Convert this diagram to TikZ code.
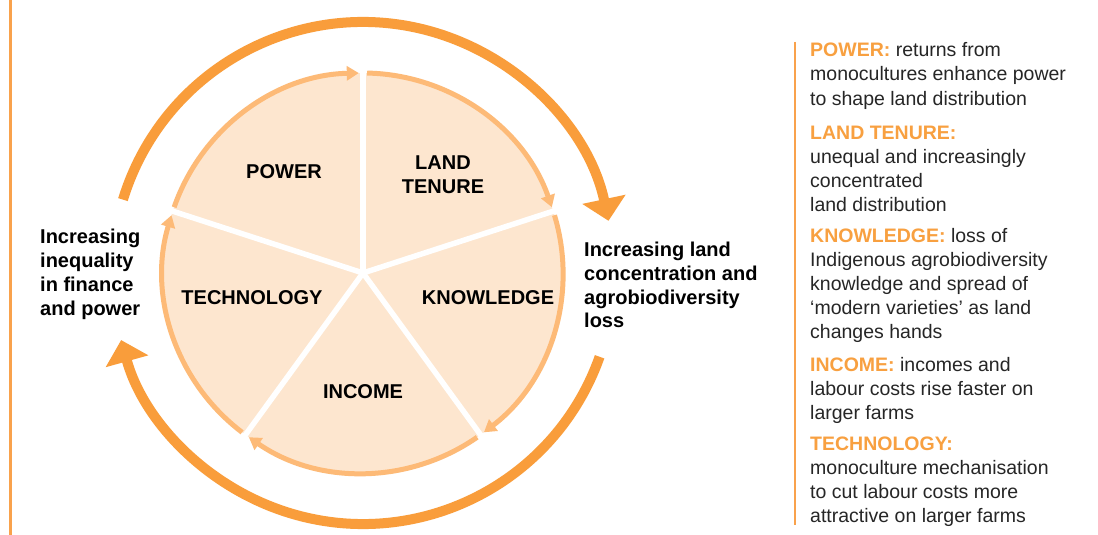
\documentclass[tikz,border=0pt]{standalone}
\usepackage{fontspec}
\setmainfont{Liberation Sans}
\usetikzlibrary{arrows.meta,calc}
\definecolor{peach}{HTML}{FDE6CF}
\definecolor{rim}{HTML}{FDBA77}
\definecolor{ring}{HTML}{F99D3B}
\definecolor{hdcol}{HTML}{F8A040}
\definecolor{txt}{HTML}{262626}
\definecolor{border}{HTML}{F9A24C}
\newcommand\legHead[1]{\textcolor{hdcol}{\bfseries #1}}
\begin{document}
\begin{tikzpicture}[x=1pt,y=1pt,
  rimarc/.style={draw=rim,line width=5pt,-{Triangle[length=12pt,width=14pt]}},
  ringarc/.style={draw=ring,line width=10pt,-{Triangle[length=22pt,width=43pt]}},
  divider/.style={draw=white,line width=5.5pt},
  borderline/.style={draw=border,line width=2.5pt},
  slicelab/.style={font=\fontsize{20}{24}\selectfont\bfseries,anchor=base,inner sep=0pt},
  sidelab/.style={font=\fontsize{20}{24}\selectfont\bfseries,anchor=base west,inner sep=0pt},
  legline/.style={font=\fontsize{19.5}{24}\selectfont,text=txt,anchor=base west,inner sep=0pt}]
\useasboundingbox (0,0) rectangle (1098,-535);
\fill[white] (0,0) rectangle (1098,-535);

% borders
\coordinate (bl1) at (10.5,0);
\coordinate (bl2) at (10.5,-535);
\coordinate (br1) at (795,-42);
\coordinate (br2) at (795,-525);
\draw[borderline] (bl1) -- (bl2);
\draw[borderline] (br1) -- (br2);

% pie
\coordinate (c) at (363,-273);
\fill[peach] (c) circle[radius=200];
\foreach \b [evaluate=\b as \s using \b+70.8, evaluate=\b as \e using \b+1.2] in {90,18,-54,-126,-198}
  \draw[rimarc] ($(c)+(\s:200)$) arc[start angle=\s, end angle=\e, radius=200];
\foreach \b in {90,18,-54,-126,162}
  \draw[divider] (c) -- ($(c)+(\b:204)$);

% outer ring arrows
\draw[ringarc] ($(c)+(163:251)$) arc[start angle=163, end angle=12, radius=251];
\draw[ringarc] ($(c)+(-19.5:251)$) arc[start angle=-19.5, end angle=-164.5, radius=251];

% slice labels
\node[slicelab] (power) at (284,-178) {POWER};
\node[slicelab] (land1) at (443,-169) {LAND};
\node[slicelab] (land2) at (443,-193) {TENURE};
\node[slicelab] (tech) at (252,-304) {TECHNOLOGY};
\node[slicelab] (know) at (488,-304) {KNOWLEDGE};
\node[slicelab] (inc) at (363,-398) {INCOME};

% side labels
\node[sidelab] (l1) at (40,-243) {Increasing};
\node[sidelab] (l2) at (40,-267) {inequality};
\node[sidelab] (l3) at (40,-291) {in finance};
\node[sidelab] (l4) at (40,-315) {and power};
\node[sidelab] (r1) at (584,-256) {Increasing land};
\node[sidelab] (r2) at (584,-280) {concentration and};
\node[sidelab] (r3) at (584,-304) {agrobiodiversity};
\node[sidelab] (r4) at (584,-327) {loss};

% legend
\node[legline] (g1) at (810,-57) {\legHead{POWER:} returns from};
\node[legline] (g2) at (810,-81) {monocultures enhance power};
\node[legline] (g3) at (810,-105) {to shape land distribution};
\node[legline] (g4) at (810,-139.5) {\legHead{LAND TENURE:}};
\node[legline] (g5) at (810,-163.5) {unequal and increasingly};
\node[legline] (g6) at (810,-187.5) {concentrated};
\node[legline] (g7) at (810,-211.5) {land distribution};
\node[legline] (g8) at (810,-242.5) {\legHead{KNOWLEDGE:} loss of};
\node[legline] (g9) at (810,-266.5) {Indigenous agrobiodiversity};
\node[legline] (g10) at (810,-290.5) {knowledge and spread of};
\node[legline] (g11) at (810,-314.5) {‘modern varieties’ as land};
\node[legline] (g12) at (810,-338.5) {changes hands};
\node[legline] (g13) at (810,-371) {\legHead{INCOME:} incomes and};
\node[legline] (g14) at (810,-395) {labour costs rise faster on};
\node[legline] (g15) at (810,-419) {larger farms};
\node[legline] (g16) at (810,-450.5) {\legHead{TECHNOLOGY:}};
\node[legline] (g17) at (810,-474.5) {monoculture mechanisation};
\node[legline] (g18) at (810,-498.5) {to cut labour costs more};
\node[legline] (g19) at (810,-522) {attractive on larger farms};
\end{tikzpicture}
\end{document}
